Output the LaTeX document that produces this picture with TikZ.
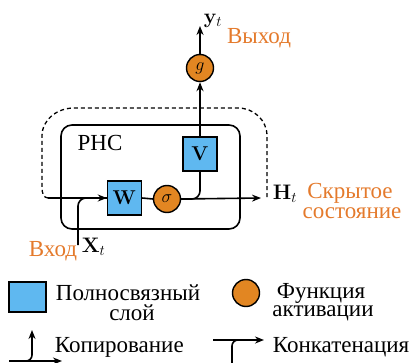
\RequirePackage{fix-cm}
\documentclass[tikz,border=0pt]{standalone}
\usepackage[no-math]{fontspec}
\setmainfont{Liberation Serif}
\usetikzlibrary{arrows.meta}
\definecolor{layerblue}{RGB}{95,184,240}
\definecolor{actorange}{RGB}{226,134,34}
\definecolor{labelorange}{RGB}{228,122,44}
\begin{document}
\begin{tikzpicture}[x=1pt,y=-1pt,
  line width=1.6pt,
  arr/.style={-{Stealth[length=9pt,width=7pt]}},
  layer/.style={draw,fill=layerblue,minimum width=34pt,minimum height=34pt,inner sep=0pt,line width=1.4pt},
  act/.style={draw,circle,fill=actorange,minimum size=27pt,inner sep=0pt,line width=1.4pt},
  txt/.style={font=\fontsize{23}{20}\selectfont,inner sep=0pt},
  otxt/.style={txt,text=labelorange}]
\useasboundingbox (0,0) rectangle (414,363);

% recurrent cell frame
\draw[rounded corners=11pt] (61,125) rectangle (240,229);
\node[txt] (rnn) at (100,143) {РНС};

% layers and activations
\node[layer] (W) at (124.5,198) {\fontsize{20}{20}\selectfont$\mathbf{W}$};
\node[layer] (V) at (200,154) {\fontsize{20}{20}\selectfont$\mathbf{V}$};
\node[act] (sig) at (167,199) {\fontsize{18}{18}\selectfont$\sigma$};
\node[act] (g) at (200,68) {\fontsize{18}{18}\selectfont$g$};

% end points of the free connectors
\coordinate (hstart) at (48,198);
\coordinate (hend) at (261,198);
\coordinate (xin) at (78,245);
\coordinate (yout) at (200,26);

% hidden state loop
\draw[dashed,line width=1.3pt,dash pattern=on 4pt off 3pt]
  (hstart) to[out=180,in=-90] (42,188) -- (42,136)
  to[out=90,in=180] (74,108) -- (238,108)
  to[out=0,in=90] (267,136) -- (267,199);

% data flow
\draw[rounded corners=8pt] (xin) |- (W.west);
\draw[arr] (hstart) -- (W.west);
\draw (W.east) -- (sig.west);
\draw[arr] (sig.east) -- (hend);
\draw[rounded corners=8pt] (sig.east) -| (V.south);
\draw[arr] (V.north) -- (g.south);
\draw[arr] (g.north) -- (yout);

% labels
\node[txt,anchor=west] (yt) at (203,21) {\fontsize{21}{21}\selectfont$\mathbf{y}_t$};
\node[otxt] (out) at (259,38) {Выход};
\node[txt,anchor=west] (ht) at (272,194) {\fontsize{21}{21}\selectfont$\mathbf{H}_t$};
\node[otxt] (hs1) at (350,193) {Скрытое};
\node[otxt] (hs2) at (352,213) {состояние};
\node[txt,anchor=west] (xt) at (81,247) {\fontsize{21}{21}\selectfont$\mathbf{X}_t$};
\node[otxt] (inp) at (53,251) {Вход};

% legend
\node[layer,minimum width=37pt,minimum height=30pt] (lgW) at (27.5,297) {};
\node[txt] (lgW1) at (128,293) {Полносвязный};
\node[txt] (lgW2) at (132,313) {слой};
\node[act] (lgA) at (246,293) {};
\node[txt] (lgA1) at (321,293) {Функция};
\node[txt] (lgA2) at (323,313) {активации};

\coordinate (cpa) at (9,361);
\coordinate (cpb) at (62,361);
\coordinate (cpc) at (24,361);
\coordinate (cpd) at (32,330);
\draw[arr] (cpa) -- (cpb);
\draw[arr,rounded corners=6pt] (cpc) -| (cpd);
\node[txt,anchor=west] (cpt) at (54,347) {Копирование};

\coordinate (cna) at (213,340);
\coordinate (cnb) at (264,340);
\coordinate (cnc) at (232,364);
\coordinate (cnd) at (244,340);
\draw[arr] (cna) -- (cnb);
\draw[rounded corners=6pt] (cnc) |- (cnd);
\node[txt,anchor=west] (cnt) at (272,347) {Конкатенация};
\end{tikzpicture}
\end{document}
